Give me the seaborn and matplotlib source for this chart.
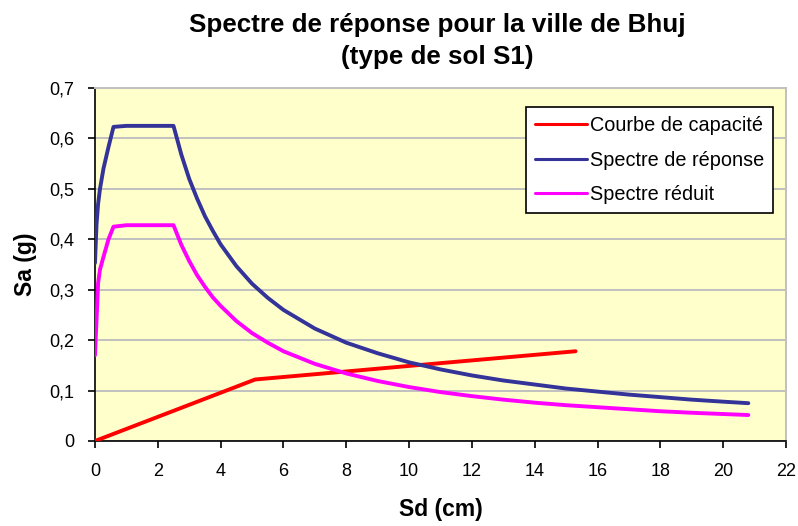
import matplotlib
matplotlib.use("Agg")
import matplotlib.pyplot as plt
import seaborn as sns
import pandas as pd

# Capacity curve (Sd in cm, Sa in g)
capacite_sd = [0.0, 5.1, 15.3]
capacite_sa = [0.0, 0.122, 0.178]

# Elastic response spectrum in ADRS format
reponse_sd = [0.0, 0.05, 0.1, 0.16, 0.27, 0.43, 0.59, 1.0, 1.5, 2.0, 2.5,
              2.75, 3.0, 3.25, 3.5, 3.75, 4.0, 4.5, 5.0, 5.5, 6.0, 7.0, 8.0, 9.0,
              10.0, 11.0, 12.0, 13.0, 14.0, 15.0, 16.0, 17.0, 18.0, 19.0, 20.0, 20.8]
reponse_sa = [0.353, 0.43, 0.47, 0.50, 0.54, 0.583, 0.623, 0.625, 0.625, 0.625, 0.625,
              0.568, 0.52, 0.481, 0.446, 0.417, 0.39, 0.347, 0.312, 0.284, 0.26, 0.223,
              0.195, 0.174, 0.156, 0.142, 0.130, 0.120, 0.112, 0.104, 0.098, 0.092,
              0.087, 0.082, 0.078, 0.075]

# Reduced spectrum
reduit_sd = [0.0, 0.05, 0.1, 0.16, 0.27, 0.43, 0.59, 1.0, 1.5, 2.0, 2.5,
             2.75, 3.0, 3.25, 3.5, 3.75, 4.0, 4.5, 5.0, 5.5, 6.0, 7.0, 8.0, 9.0,
             10.0, 11.0, 12.0, 13.0, 14.0, 15.0, 16.0, 17.0, 18.0, 19.0, 20.0, 20.8]
reduit_sa = [0.17, 0.24, 0.313, 0.34, 0.365, 0.40, 0.425, 0.428, 0.428, 0.428, 0.428,
             0.389, 0.357, 0.329, 0.306, 0.285, 0.268, 0.238, 0.214, 0.195, 0.178, 0.153,
             0.134, 0.119, 0.107, 0.097, 0.089, 0.082, 0.076, 0.071, 0.067, 0.063,
             0.059, 0.056, 0.0535, 0.0515]

x_ticks = list(range(0, 23, 2))
y_ticks = [0.0, 0.1, 0.2, 0.3, 0.4, 0.5, 0.6, 0.7]
y_tick_labels = ["0", "0,1", "0,2", "0,3", "0,4", "0,5", "0,6", "0,7"]

sns.set_theme(style="white")
plt.rcParams["font.family"] = ["Liberation Sans", "DejaVu Sans"]
plt.rcParams["text.color"] = "black"
plt.rcParams["axes.labelcolor"] = "black"

fig = plt.figure(figsize=(7.98, 5.26), dpi=100)
ax = fig.add_axes([0.119, 0.1616, 0.866, 0.671])
ax.set_facecolor("#FFFFCC")

series = [
    ("Courbe de capacité", capacite_sd, capacite_sa, "#FF0000"),
    ("Spectre de réponse", reponse_sd, reponse_sa, "#333399"),
    ("Spectre réduit", reduit_sd, reduit_sa, "#FF00FF"),
]
for name, sd, sa, color in series:
    df = pd.DataFrame({"Sd": sd, "Sa": sa})
    sns.lineplot(data=df, x="Sd", y="Sa", ax=ax, color=color, linewidth=2.8,
                 sort=False, label=name, zorder=3)

ax.set_xlim(0, 22)
ax.set_ylim(0, 0.7)
ax.set_xticks(x_ticks)
ax.set_xticklabels([str(t) for t in x_ticks])
ax.set_yticks(y_ticks)
ax.set_yticklabels(y_tick_labels)
ax.yaxis.grid(True, color="#C0C0C0", linewidth=1.4, zorder=1)
ax.xaxis.grid(False)
ax.set_axisbelow(True)

for side in ("left", "bottom"):
    ax.spines[side].set_color("black")
    ax.spines[side].set_linewidth(1.2)
for side in ("top", "right"):
    ax.spines[side].set_color("#C0C0C0")
    ax.spines[side].set_linewidth(1.4)

ax.tick_params(axis="both", direction="out", length=5, width=1.2, color="black",
               labelsize=13, labelcolor="black", bottom=True, left=True)
ax.tick_params(axis="x", pad=11)
ax.tick_params(axis="y", pad=10)

ax.set_xlabel("Sd (cm)", fontsize=16.5, fontweight="bold", labelpad=13)
ax.set_ylabel("Sa (g)", fontsize=16.5, fontweight="bold", labelpad=9)

fig.suptitle("Spectre de réponse pour la ville de Bhuj\n(type de sol S1)",
             x=0.548, y=0.975, fontsize=18.7, fontweight="bold", linespacing=1.4,
             color="black")

leg = ax.legend(loc="upper right", bbox_to_anchor=(0.981, 0.946), fontsize=14.3,
                frameon=True, fancybox=False, framealpha=1, edgecolor="black",
                handlelength=2.6, handletextpad=0.15, labelspacing=0.78,
                borderpad=0.45, borderaxespad=0)
leg.get_frame().set_linewidth(1.2)
for line in leg.get_lines():
    line.set_linewidth(2.2)

fig.savefig("out.png", dpi=100, facecolor="white")
